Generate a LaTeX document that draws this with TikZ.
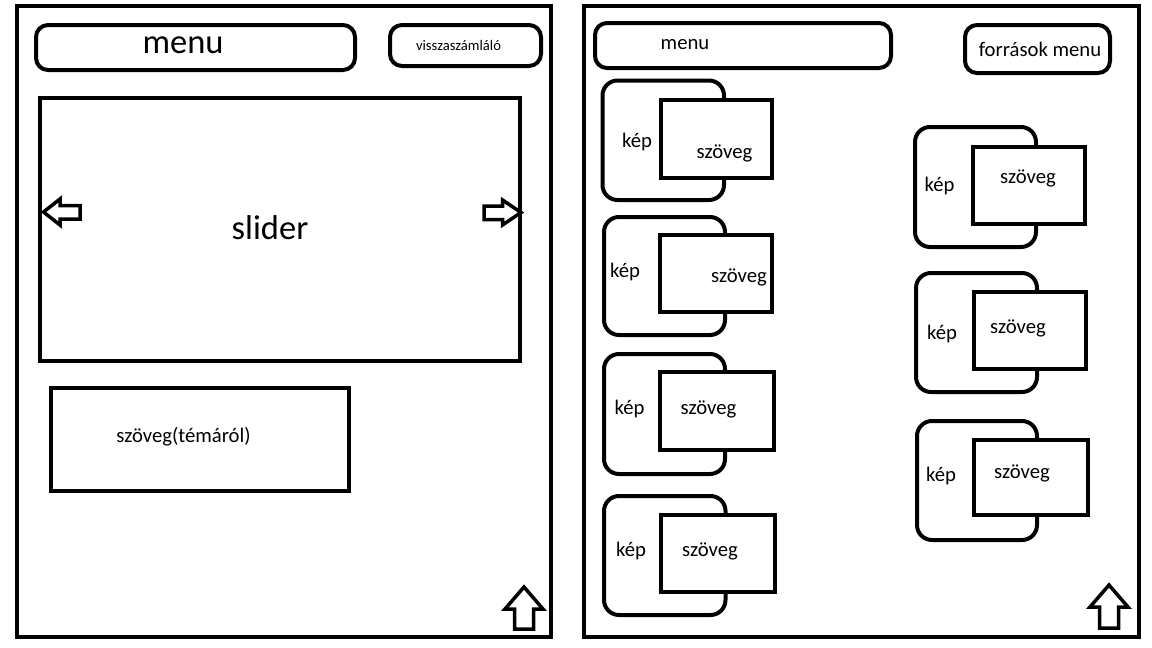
\documentclass[tikz,border=0pt]{standalone}
\usepackage{fontspec}
\setmainfont{Carlito}
\begin{document}
\begin{tikzpicture}[x=1pt,y=-1pt,
  panel/.style={draw, line width=4.5pt, inner sep=0pt, outer sep=0pt},
  box/.style={draw, fill=white, line width=4pt, inner sep=0pt, outer sep=0pt},
  pill/.style={box, rounded corners=12pt},
  imgbox/.style={box, rounded corners=15pt},
  lbl/.style={inner sep=0pt, outer sep=0pt, font=\fontsize{20.7}{24}\selectfont},
  biglbl/.style={inner sep=0pt, outer sep=0pt, font=\fontsize{34.5}{40}\selectfont},
  smalllbl/.style={inner sep=0pt, outer sep=0pt, font=\fontsize{14.6}{17}\selectfont},
  blockarrow/.style={draw, fill=white, line width=3.5pt, line join=miter}
]
\useasboundingbox (0,0) rectangle (1152,648);
\fill[white] (0,0) rectangle (1152,648);

% ---------- left page ----------
\node[panel, minimum width=534pt, minimum height=631pt] (leftpanel) at (284,321.5) {};
\node[pill, minimum width=319pt, minimum height=45pt] (menuL) at (195.5,47.5) {};
\node[biglbl] (menuLtxt) at (183,45.5) {menu};
\node[pill, minimum width=151pt, minimum height=41pt] (countdown) at (465.5,45.5) {};
\node[smalllbl] (countdowntxt) at (458.5,45.5) {visszaszámláló};
\node[box, minimum width=480pt, minimum height=263pt] (slider) at (280,229.5) {};
\node[biglbl] (slidertxt) at (270,228) {slider};
\draw[blockarrow] (43.5,212) -- (60,199) -- (60,205.5) -- (80,205.5) -- (80,219) -- (60,219) -- (60,225) -- cycle;
\draw[blockarrow] (521,212.5) -- (502.5,200) -- (502.5,206) -- (484,206) -- (484,219.5) -- (502.5,219.5) -- (502.5,225) -- cycle;
\node[box, minimum width=298pt, minimum height=103pt] (topic) at (200,439.5) {};
\node[lbl] (topictxt) at (183.5,437) {szöveg(témáról)};
\draw[blockarrow] (524,587) -- (543,609) -- (533.5,609) -- (533.5,629) -- (514.5,629) -- (514.5,609) -- (505,609) -- cycle;

% ---------- right page ----------
\node[panel, minimum width=555pt, minimum height=631pt] (rightpanel) at (861.5,321.5) {};
\node[pill, minimum width=296pt, minimum height=45pt] (menuR) at (743,45.5) {};
\node[lbl] (menuRtxt) at (685,45) {menu};
\node[pill, minimum width=145pt, minimum height=48pt] (sources) at (1037.5,49) {};
\node[lbl] (sourcestxt) at (1040,49) {források menu};

% left column
\node[imgbox, minimum width=121.5pt, minimum height=119.5pt] (imgA) at (663.25,140.25) {};
\node[box, minimum width=111.5pt, minimum height=78pt] (txtA) at (716.25,139) {};
\node[lbl] (imgAtxt) at (637,142) {kép};
\node[lbl] (txtAtxt) at (724.5,153) {szöveg};

\node[imgbox, minimum width=121pt, minimum height=118pt] (imgB) at (664.5,276) {};
\node[box, minimum width=112pt, minimum height=77pt] (txtB) at (716,273.5) {};
\node[lbl] (imgBtxt) at (625,272) {kép};
\node[lbl] (txtBtxt) at (739,277) {szöveg};

\node[imgbox, minimum width=121pt, minimum height=120pt] (imgC) at (664.5,414) {};
\node[box, minimum width=113.5pt, minimum height=78pt] (txtC) at (716.75,411) {};
\node[lbl] (imgCtxt) at (629.5,409) {kép};
\node[lbl] (txtCtxt) at (708.5,409) {szöveg};

\node[imgbox, minimum width=121.5pt, minimum height=119pt] (imgD) at (664.75,555.5) {};
\node[box, minimum width=114pt, minimum height=77pt] (txtD) at (718,553.5) {};
\node[lbl] (imgDtxt) at (631,551) {kép};
\node[lbl] (txtDtxt) at (710,551) {szöveg};

% right column
\node[imgbox, minimum width=121pt, minimum height=120pt] (imgE) at (975.5,187) {};
\node[box, minimum width=112pt, minimum height=77pt] (txtE) at (1029,185.5) {};
\node[lbl] (imgEtxt) at (939.5,185.5) {kép};
\node[lbl] (txtEtxt) at (1028,178) {szöveg};

\node[imgbox, minimum width=121pt, minimum height=119pt] (imgF) at (976.5,332.5) {};
\node[box, minimum width=112pt, minimum height=77pt] (txtF) at (1030,330.5) {};
\node[lbl] (imgFtxt) at (942,334) {kép};
\node[lbl] (txtFtxt) at (1018,328) {szöveg};

\node[imgbox, minimum width=120pt, minimum height=119pt] (imgG) at (977,480.5) {};
\node[box, minimum width=114pt, minimum height=75pt] (txtG) at (1031,477.5) {};
\node[lbl] (imgGtxt) at (941,476) {kép};
\node[lbl] (txtGtxt) at (1022,473) {szöveg};

\draw[blockarrow] (1109,585) -- (1128,607) -- (1118.5,607) -- (1118.5,628) -- (1099.5,628) -- (1099.5,607) -- (1090,607) -- cycle;
\end{tikzpicture}
\end{document}
